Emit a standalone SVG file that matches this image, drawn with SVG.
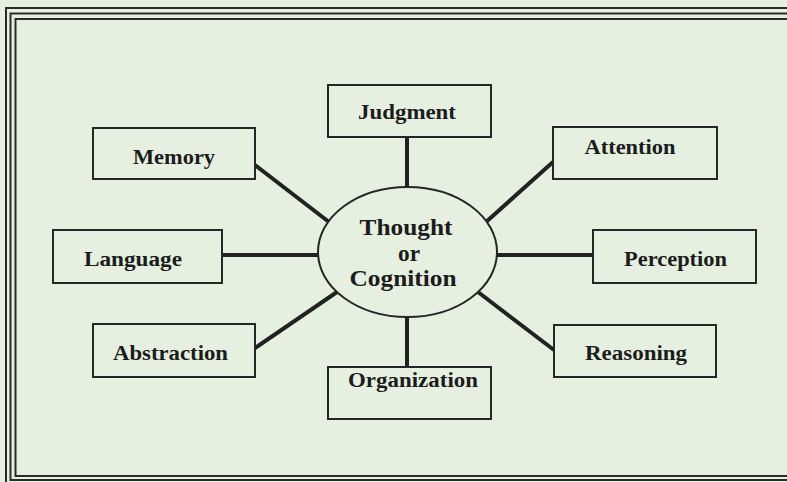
<svg xmlns="http://www.w3.org/2000/svg" width="787" height="482" viewBox="0 0 787 482">
<style>
.frame{fill:none;stroke:#2b2b2b;stroke-width:2}
.box{fill:#e6f0e1;stroke:#262626;stroke-width:2}
.lbl{font-family:"Liberation Serif","Times New Roman",serif;font-weight:bold;font-size:20px;fill:#1c1c1c;text-anchor:middle}
.big{font-family:"Liberation Serif","Times New Roman",serif;font-weight:bold;font-size:24px;fill:#1c1c1c;text-anchor:middle}
.con{stroke:#222;stroke-width:4;fill:none}
</style>
<rect x="0" y="0" width="787" height="482" fill="#e6f0e1"/>
<g id="frame">
<rect class="frame" x="6" y="8" width="800" height="484" stroke="#555"/>
<rect class="frame" x="10.5" y="13.5" width="800" height="466.5"/>
<rect class="frame" x="15.5" y="19" width="800" height="457"/>
</g>
<g id="connectors">
<line class="con" x1="255" y1="165" x2="329" y2="222"/>
<line class="con" x1="407" y1="137" x2="407" y2="188"/>
<line class="con" x1="553" y1="162" x2="486" y2="222"/>
<line class="con" x1="222" y1="255" x2="319" y2="255"/>
<line class="con" x1="495" y1="255" x2="593" y2="255"/>
<line class="con" x1="255" y1="348" x2="337" y2="292"/>
<line class="con" x1="478" y1="292" x2="554" y2="350"/>
<line class="con" x1="407" y1="316" x2="407" y2="367"/>
</g>
<g id="center">
<ellipse cx="407.5" cy="252" rx="89.5" ry="65" fill="#e6f0e1" stroke="#262626" stroke-width="2"/>
<text class="big" x="406" y="235" textLength="93" lengthAdjust="spacingAndGlyphs">Thought</text>
<text class="big" x="409" y="261" textLength="22" lengthAdjust="spacingAndGlyphs">or</text>
<text class="big" x="403" y="286" textLength="107" lengthAdjust="spacingAndGlyphs">Cognition</text>
</g>
<g id="judgment">
<rect class="box" x="328" y="85" width="163" height="52"/>
<text class="lbl" x="407" y="119" textLength="98" lengthAdjust="spacingAndGlyphs">Judgment</text>
</g>
<g id="memory">
<rect class="box" x="93" y="128" width="162" height="51"/>
<text class="lbl" x="174" y="164" textLength="82" lengthAdjust="spacingAndGlyphs">Memory</text>
</g>
<g id="attention">
<rect class="box" x="553" y="127" width="164" height="52"/>
<text class="lbl" x="630" y="154" textLength="91" lengthAdjust="spacingAndGlyphs">Attention</text>
</g>
<g id="language">
<rect class="box" x="53" y="230" width="169" height="53"/>
<text class="lbl" x="133" y="266" textLength="98" lengthAdjust="spacingAndGlyphs">Language</text>
</g>
<g id="perception">
<rect class="box" x="593" y="230" width="163" height="53"/>
<text class="lbl" x="675.5" y="266" textLength="103" lengthAdjust="spacingAndGlyphs">Perception</text>
</g>
<g id="abstraction">
<rect class="box" x="93" y="324" width="162" height="53"/>
<text class="lbl" x="170.5" y="360" textLength="115" lengthAdjust="spacingAndGlyphs">Abstraction</text>
</g>
<g id="reasoning">
<rect class="box" x="554" y="325" width="162" height="52"/>
<text class="lbl" x="636" y="360" textLength="102" lengthAdjust="spacingAndGlyphs">Reasoning</text>
</g>
<g id="organization">
<rect class="box" x="328" y="367" width="163" height="52"/>
<text class="lbl" x="413" y="387" textLength="130" lengthAdjust="spacingAndGlyphs">Organization</text>
</g>
</svg>
